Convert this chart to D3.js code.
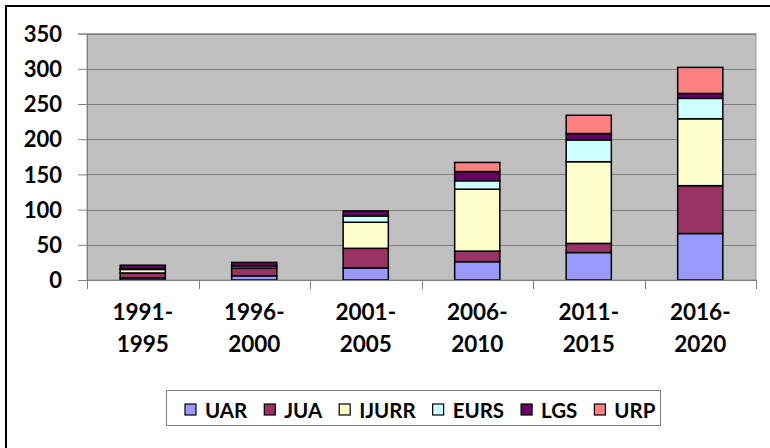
<!DOCTYPE html>
<html>
<head>
<meta charset="utf-8">
<script src="https://cdn.jsdelivr.net/npm/d3@7"></script>
<style>
  body { margin: 0; background: #fff; }
  svg { display: block; font-family: Lato, "Open Sans", sans-serif; font-weight: bold; }
</style>
</head>
<body>
<div id="chart"></div>
<script>
// periods on the x axis (two lines each)
var periods = ["1991-1995", "1996-2000", "2001-2005", "2006-2010", "2011-2015", "2016-2020"];
var seriesNames = ["UAR", "JUA", "IJURR", "EURS", "LGS", "URP"];
var seriesColors = ["#9999ff", "#993366", "#ffffcc", "#ccffff", "#660066", "#ff8080"];

// values, one array per series
var UAR   = [3, 6, 17, 26, 39, 66];
var JUA   = [7, 11, 28, 15, 13, 68];
var IJURR = [5, 0, 37, 88, 116, 95];
var EURS  = [1, 3, 9, 12, 31, 29];
var LGS   = [5, 5, 7, 13, 9, 7];
var URP   = [0, 0, 0, 13, 26, 37];

var yTicks = [0, 50, 100, 150, 200, 250, 300, 350];

var W = 770, H = 448;
var plot = {left: 87, right: 756, top: 33.6, bottom: 280};

var svg = d3.select("#chart").append("svg")
    .attr("width", W)
    .attr("height", H);

// outer chart frame (runs off the right and bottom edge)
svg.append("rect")
    .attr("x", 6).attr("y", 6)
    .attr("width", 820).attr("height", 520)
    .attr("fill", "#fff")
    .attr("stroke", "#000")
    .attr("stroke-width", 2);

var xScale = d3.scaleBand()
    .domain(periods)
    .range([plot.left, plot.right])
    .paddingInner(0.595)
    .paddingOuter(0.2975);

var yScale = d3.scaleLinear()
    .domain([0, 350])
    .range([plot.bottom, plot.top]);

// plot area
svg.append("rect")
    .attr("x", plot.left).attr("y", plot.top)
    .attr("width", plot.right - plot.left)
    .attr("height", plot.bottom - plot.top)
    .attr("fill", "#c0c0c0")
    .attr("stroke", "#999")
    .attr("stroke-width", 1);

// gridlines
svg.append("g")
    .selectAll("line")
    .data(yTicks.slice(1))
    .enter()
    .append("line")
    .attr("x1", plot.left).attr("x2", plot.right)
    .attr("y1", function(d) { return Math.round(yScale(d)) + 0.5; })
    .attr("y2", function(d) { return Math.round(yScale(d)) + 0.5; })
    .attr("stroke", "#808080")
    .attr("stroke-width", 1);

// stacked bars
var table = periods.map(function(p, i) {
    return {period: p, UAR: UAR[i], JUA: JUA[i], IJURR: IJURR[i], EURS: EURS[i], LGS: LGS[i], URP: URP[i]};
});
var stacked = d3.stack().keys(seriesNames)(table);

svg.append("g")
    .selectAll("g")
    .data(stacked)
    .enter()
    .append("g")
    .attr("fill", function(d, i) { return seriesColors[i]; })
    .selectAll("rect")
    .data(function(d) { return d.filter(function(s) { return s[1] - s[0] > 0; }); })
    .enter()
    .append("rect")
    .attr("x", function(d) { return xScale(d.data.period); })
    .attr("width", xScale.bandwidth())
    .attr("y", function(d) { return yScale(d[1]); })
    .attr("height", function(d) { return yScale(d[0]) - yScale(d[1]); })
    .attr("stroke", "#000")
    .attr("stroke-width", 1.5);

// y axis
var yAxis = d3.axisLeft(yScale)
    .tickValues(yTicks)
    .tickSize(9)
    .tickPadding(16);
var yg = svg.append("g")
    .attr("transform", "translate(" + plot.left + ",0)")
    .call(yAxis);
yg.select(".domain").attr("stroke", "#808080");
yg.selectAll(".tick line").attr("stroke", "#808080");
yg.selectAll(".tick text")
    .attr("font-size", 22)
    .attr("font-weight", "bold")
    .attr("font-family", "Lato, sans-serif")
    .attr("fill", "#000")
    .attr("dy", "0.35em");

// x axis line and ticks at category boundaries
svg.append("line")
    .attr("x1", plot.left).attr("x2", plot.right)
    .attr("y1", plot.bottom + 0.5).attr("y2", plot.bottom + 0.5)
    .attr("stroke", "#808080");
var step = xScale.step();
svg.append("g")
    .selectAll("line")
    .data(d3.range(periods.length + 1))
    .enter()
    .append("line")
    .attr("x1", function(i) { return Math.round(plot.left + i * step) + 0.5; })
    .attr("x2", function(i) { return Math.round(plot.left + i * step) + 0.5; })
    .attr("y1", plot.bottom)
    .attr("y2", plot.bottom + 9)
    .attr("stroke", "#808080");

// category labels on two lines
var xl = svg.append("g")
    .selectAll("text")
    .data(periods)
    .enter()
    .append("text")
    .attr("text-anchor", "middle")
    .attr("font-size", 22.5)
    .attr("fill", "#000");
xl.append("tspan")
    .attr("x", function(d) { return xScale(d) + xScale.bandwidth() / 2; })
    .attr("y", 320)
    .text(function(d) { return d.split("-")[0] + "-"; });
xl.append("tspan")
    .attr("x", function(d) { return xScale(d) + xScale.bandwidth() / 2; })
    .attr("y", 352)
    .text(function(d) { return d.split("-")[1]; });

// legend
var legend = svg.append("g");
legend.append("rect")
    .attr("x", 166.5).attr("y", 390.5)
    .attr("width", 494).attr("height", 35)
    .attr("fill", "#fff")
    .attr("stroke", "#808080");

var lx = 185;
seriesNames.forEach(function(name, i) {
    legend.append("rect")
        .attr("x", lx).attr("y", 404)
        .attr("width", 11).attr("height", 11)
        .attr("fill", seriesColors[i])
        .attr("stroke", "#000")
        .attr("stroke-width", 1.2);
    var t = legend.append("text")
        .attr("x", lx + 20)
        .attr("y", 418)
        .attr("font-size", 20.5)
        .attr("fill", "#000")
        .text(name);
    lx += 20 + t.node().getComputedTextLength() + 17;
});
</script>
</body>
</html>
